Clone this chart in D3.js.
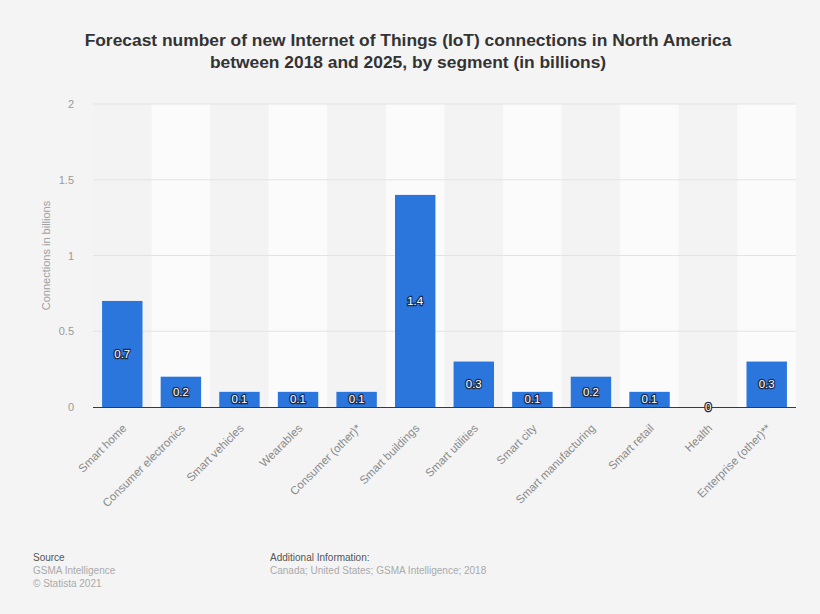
<!DOCTYPE html>
<html>
<head>
<meta charset="utf-8">
<script src="https://cdn.jsdelivr.net/npm/d3@7"></script>
<style>
  html, body { margin: 0; padding: 0; background: #f4f4f4; }
  svg { display: block; font-family: "Liberation Sans", Arial, sans-serif; }
</style>
</head>
<body>
<svg id="chart" width="820" height="614"></svg>
<script>
// IoT connections by segment, North America 2018–2025 (billions)
const categories = [
  "Smart home", "Consumer electronics", "Smart vehicles", "Wearables",
  "Consumer (other)*", "Smart buildings", "Smart utilities", "Smart city",
  "Smart manufacturing", "Smart retail", "Health", "Enterprise (other)**"
];
const values = [0.7, 0.2, 0.1, 0.1, 0.1, 1.4, 0.3, 0.1, 0.2, 0.1, 0, 0.3];
const yTicks = [0, 0.5, 1, 1.5, 2];
const titleLines = [
  "Forecast number of new Internet of Things (IoT) connections in North America",
  "between 2018 and 2025, by segment (in billions)"
];

const svg = d3.select("#chart");
const margin = { left: 93, right: 24, top: 104, bottom: 207 };
const W = 820, H = 614;

const x = d3.scaleBand()
  .domain(categories)
  .range([margin.left, W - margin.right])
  .paddingInner(0.31)
  .paddingOuter(0.155);

const y = d3.scaleLinear()
  .domain([0, 2])
  .range([H - margin.bottom, margin.top]);

// alternating column shading
const step = x.step();
svg.append("g").selectAll("rect")
  .data(categories)
  .join("rect")
  .attr("x", d => x(d) + x.bandwidth() / 2 - step / 2)
  .attr("y", y(2))
  .attr("width", step)
  .attr("height", y(0) - y(2))
  .attr("fill", (d, i) => i % 2 ? "#fbfbfb" : "#f3f3f3");

// gridlines
svg.append("g").selectAll("line")
  .data(yTicks.filter(t => t > 0))
  .join("line")
  .attr("x1", margin.left)
  .attr("x2", W - margin.right)
  .attr("y1", d => y(d))
  .attr("y2", d => y(d))
  .attr("stroke", "#e3e3e3")
  .attr("stroke-width", 1);

// y axis
const yAxis = svg.append("g")
  .attr("transform", `translate(${margin.left - 16},0)`)
  .call(d3.axisLeft(y).tickValues(yTicks).tickSize(0).tickFormat(d3.format("~g")));
yAxis.select(".domain").remove();
yAxis.selectAll("text")
  .attr("fill", "#9a9a9a")
  .style("font-size", "11px");

svg.append("text")
  .attr("transform", `translate(50,${(y(0) + y(2)) / 2}) rotate(-90)`)
  .attr("text-anchor", "middle")
  .attr("fill", "#a0a0a0")
  .style("font-size", "11px")
  .text("Connections in billions");

// bars
svg.append("g").selectAll("rect")
  .data(values)
  .join("rect")
  .attr("x", (d, i) => x(categories[i]))
  .attr("y", d => y(d))
  .attr("width", x.bandwidth())
  .attr("height", d => y(0) - y(d))
  .attr("fill", "#2a76dc");

// baseline
svg.append("line")
  .attr("x1", margin.left)
  .attr("x2", W - margin.right)
  .attr("y1", y(0) + 0.5)
  .attr("y2", y(0) + 0.5)
  .attr("stroke", "#3a3a3a")
  .attr("stroke-width", 1);

// value labels
svg.append("g").selectAll("text")
  .data(values)
  .join("text")
  .attr("x", (d, i) => x(categories[i]) + x.bandwidth() / 2)
  .attr("y", d => (y(d) + y(0)) / 2 + 4)
  .attr("text-anchor", "middle")
  .attr("fill", "#ffffff")
  .attr("stroke", "#1c2b4a")
  .attr("stroke-width", 2.4)
  .attr("paint-order", "stroke")
  .style("font-size", "11.5px")
  .text(d => d3.format("~g")(d));

// x axis category labels
const xAxis = svg.append("g")
  .attr("transform", `translate(0,${y(0)})`)
  .call(d3.axisBottom(x).tickSize(0));
xAxis.select(".domain").remove();
xAxis.selectAll("text")
  .attr("fill", "#8a8a8a")
  .style("font-size", "11.5px")
  .attr("text-anchor", "end")
  .attr("dx", "0em")
  .attr("dy", "0.6em")
  .attr("transform", "translate(-2,15) rotate(-45)");

// title
svg.append("g").selectAll("text")
  .data(titleLines)
  .join("text")
  .attr("x", W / 2 - 2)
  .attr("y", (d, i) => 46 + i * 22)
  .attr("text-anchor", "middle")
  .attr("fill", "#333333")
  .style("font-size", "17.4px")
  .style("font-weight", "bold")
  .text(d => d);

// footer
const foot = svg.append("g").style("font-size", "10px");
foot.append("text").attr("x", 33).attr("y", 561).attr("fill", "#555").text("Source");
foot.append("text").attr("x", 33).attr("y", 574).attr("fill", "#aaa").text("GSMA Intelligence");
foot.append("text").attr("x", 33).attr("y", 587).attr("fill", "#aaa").text("© Statista 2021");
foot.append("text").attr("x", 270).attr("y", 561).attr("fill", "#555").text("Additional Information:");
foot.append("text").attr("x", 270).attr("y", 574).attr("fill", "#aaa").text("Canada; United States; GSMA Intelligence; 2018");
</script>
</body>
</html>
